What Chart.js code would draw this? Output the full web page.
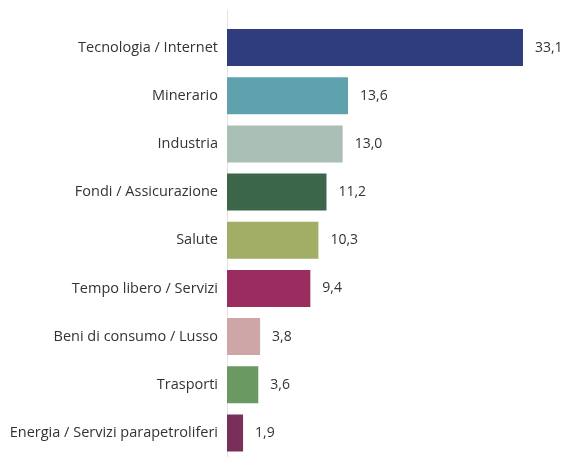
<!DOCTYPE html>
<html>
<head>
<meta charset="utf-8">
<script src="https://cdn.jsdelivr.net/npm/chart.js@4"></script>
<style>
  html, body { margin: 0; padding: 0; background: #fff; }
  #wrap { width: 566px; height: 457px; }
</style>
</head>
<body>
<div id="wrap"><canvas id="chart"></canvas></div>
<script>
const categories = [
  'Tecnologia / Internet',
  'Minerario',
  'Industria',
  'Fondi / Assicurazione',
  'Salute',
  'Tempo libero / Servizi',
  'Beni di consumo / Lusso',
  'Trasporti',
  'Energia / Servizi parapetroliferi'
]
const values = [33.1, 13.6, 13.0, 11.2, 10.3, 9.4, 3.8, 3.6, 1.9]
const barColors = ['#2f3d7e', '#5fa2ae', '#aabfb5', '#3b664a', '#a2ae66', '#9b2c5f', '#cfa6a7', '#6a9a62', '#792f5a']

const fontFamily = '"Open Sans", "Liberation Sans", Arial, sans-serif'

// value labels to the right of each bar, Italian decimal comma
const valueLabels = {
  id: 'valueLabels',
  afterDatasetsDraw(chart) {
    const ctx = chart.ctx
    const meta = chart.getDatasetMeta(0)
    ctx.save()
    ctx.font = '14px ' + fontFamily
    ctx.fillStyle = '#333'
    ctx.textBaseline = 'middle'
    ctx.textAlign = 'left'
    meta.data.forEach((bar, i) => {
      ctx.fillText(values[i].toFixed(1).replace('.', ','), bar.x + 11, bar.y)
    })
    ctx.restore()
  }
}

// thin vertical axis line, a bit taller than the plot
const axisLine = {
  id: 'axisLine',
  beforeDatasetsDraw(chart) {
    const ctx = chart.ctx
    const x = Math.round(chart.chartArea.left) + 0.5
    ctx.save()
    ctx.strokeStyle = '#e3e3e3'
    ctx.lineWidth = 1
    ctx.beginPath()
    ctx.moveTo(x, 10)
    ctx.lineTo(x, chart.height)
    ctx.stroke()
    ctx.restore()
  }
}

new Chart(document.getElementById('chart'), {
  type: 'bar',
  data: {
    labels: categories,
    datasets: [{
      data: values,
      backgroundColor: barColors,
      borderColor: 'rgba(255,255,255,0.35)',
      borderWidth: 1,
      categoryPercentage: 0.81,
      barPercentage: 1
    }]
  },
  options: {
    indexAxis: 'y',
    responsive: true,
    maintainAspectRatio: false,
    animation: false,
    layout: { padding: { top: 23.5, right: 16, bottom: 0, left: 0 } },
    plugins: { legend: { display: false }, tooltip: { enabled: false } },
    scales: {
      x: {
        min: 0,
        max: 36,
        display: false
      },
      y: {
        afterFit(scale) {
          scale.width = 227
          scale.paddingTop = 0
          scale.paddingBottom = 0
        },
        grid: { display: false, drawTicks: false },
        border: { display: false },
        ticks: {
          color: '#333',
          padding: 9,
          font: { family: fontFamily, size: 14.5 }
        }
      }
    }
  },
  plugins: [valueLabels, axisLine]
})
</script>
</body>
</html>
